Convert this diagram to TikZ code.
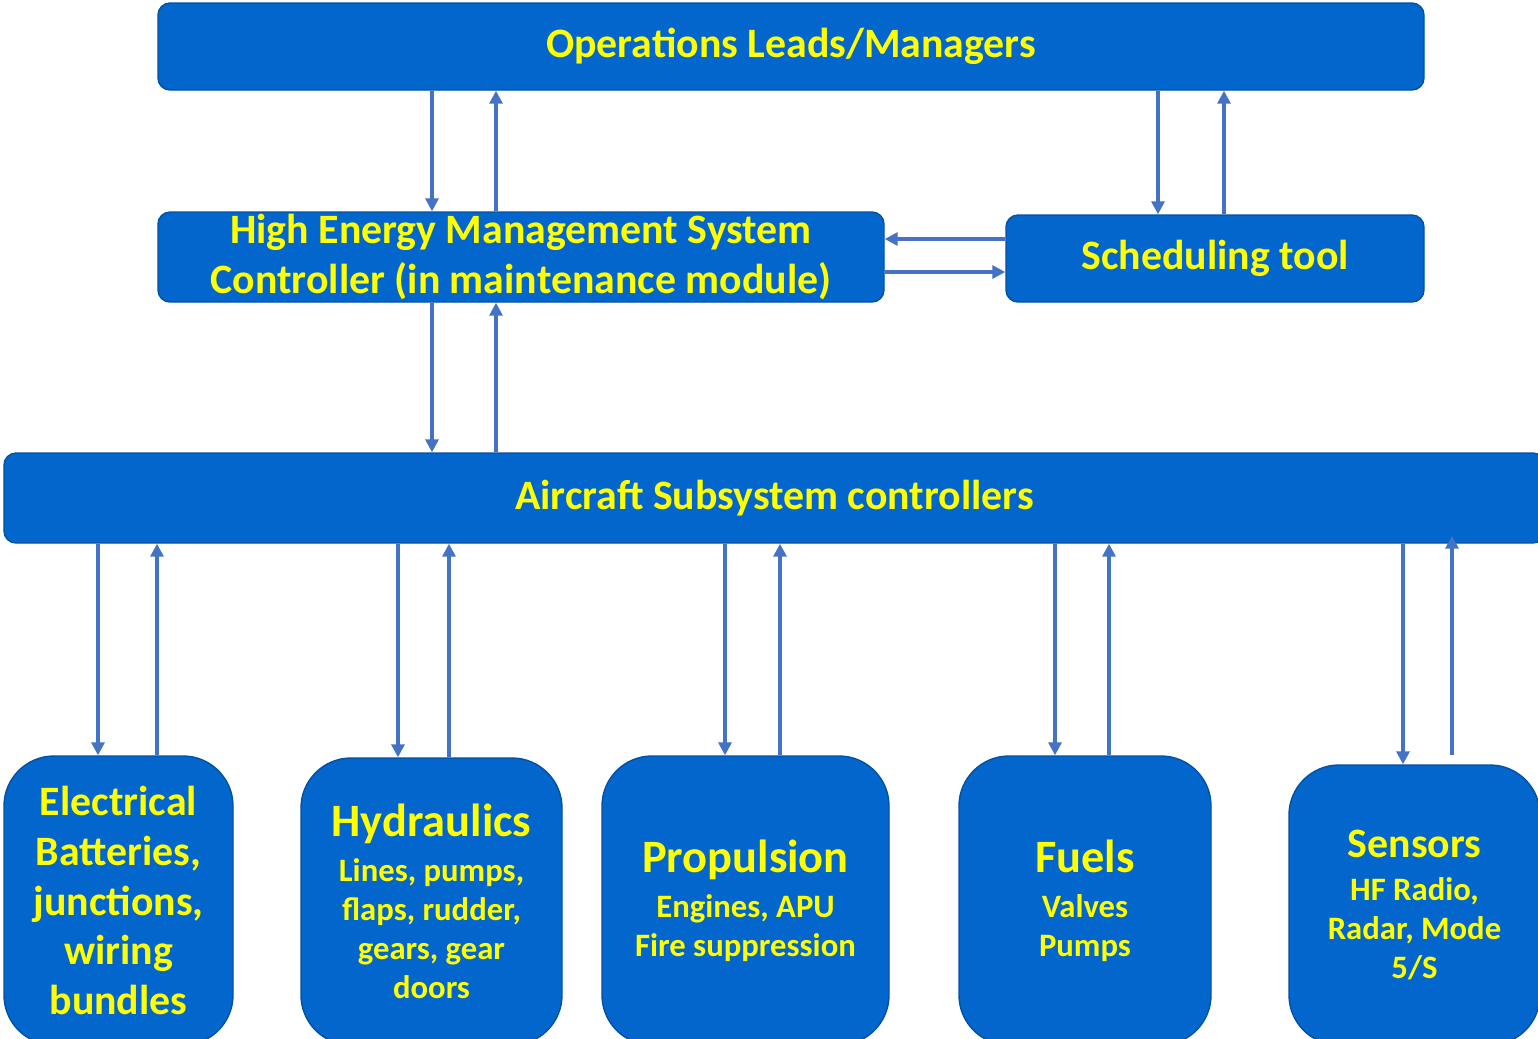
\documentclass[tikz,border=0pt]{standalone}
\usepackage{fontspec}
\setmainfont{Carlito}
\usetikzlibrary{arrows.meta,positioning}
\definecolor{boxblue}{RGB}{2,102,204}
\definecolor{linkblue}{RGB}{68,114,196}
\definecolor{labelyellow}{RGB}{255,255,0}
\newcommand{\headfont}{\fontsize{13.2}{15}\selectfont}
\newcommand{\subfont}{\fontsize{9.3}{11.1}\selectfont}
\tikzset{bar/.style={
            draw=boxblue!80!black,
            fill=boxblue,
            thin,
            rounded corners=0.12cm,
            text=labelyellow,
            font=\bfseries\fontsize{11.9}{14.2}\selectfont,
            align=center,
            inner sep=0pt
        },
        unit/.style={
            bar,
            rounded corners=0.5cm,
            font=\bfseries\subfont
        },
        link/.style={
            draw=linkblue,
            line width=0.9pt,
            -{Triangle[length=0.13cm,width=0.13cm]}
        }
    }

\begin{document}
\begin{tikzpicture}
        \clip (0,0) rectangle (15.38,-10.38);
        % management layer
        \node[bar,minimum width=12.66cm,minimum height=0.87cm] at (7.91,-0.465) (ops) {Operations Leads/Managers};
        \node[bar,minimum width=7.26cm,minimum height=0.90cm] at (5.21,-2.57) (hems) {High Energy Management System\\Controller (in maintenance module)};
        \node[bar,minimum width=4.18cm,minimum height=0.87cm] at (12.15,-2.585) (sched) {Scheduling tool};
        \node[bar,minimum width=15.41cm,minimum height=0.90cm] at (7.745,-4.98) (acs) {Aircraft Subsystem controllers};
        % subsystems
        \node[unit,minimum width=2.29cm,minimum height=2.89cm,font=\bfseries\fontsize{11.9}{14.2}\selectfont] at (1.185,-9.005) (elec) {Electrical\\Batteries,\\junctions,\\wiring\\bundles};
        \node[unit,minimum width=2.61cm,minimum height=2.87cm] at (4.315,-9.015) (hyd) {{\headfont Hydraulics}\\[1.7pt]Lines, pumps,\\flaps, rudder,\\gears, gear\\doors};
        \node[unit,minimum width=2.87cm,minimum height=2.89cm] at (7.455,-9.005) (prop) {{\headfont Propulsion}\\[1.7pt]Engines, APU\\Fire suppression};
        \node[unit,minimum width=2.52cm,minimum height=2.89cm] at (10.85,-9.005) (fuel) {{\headfont Fuels}\\[1.7pt]Valves\\Pumps};
        \node[unit,minimum width=2.51cm,minimum height=2.80cm] at (14.145,-9.05) (sens) {{\fontsize{11.9}{14}\selectfont Sensors}\\[1.2pt]HF Radio,\\Radar, Mode\\5/S};
        % vertical links, down then up
        \foreach \dn/\up/\from/\to in {4.32/4.96/ops/hems, 11.58/12.24/ops/sched, 4.32/4.96/hems/acs,
                0.98/1.57/acs/elec, 3.98/4.49/acs/hyd, 7.25/7.80/acs/prop, 10.55/11.09/acs/fuel}{
            \coordinate (d) at (\dn,0);
            \coordinate (u) at (\up,0);
            \draw[link] (\from.south -| d) -- (\to.north -| d);
            \draw[link] (\to.north -| u) -- (\from.south -| u);
        }
        \coordinate (d) at (14.03,0);
        \coordinate (u) at (14.52,0);
        \draw[link] (acs.south -| d) -- (sens.north -| d);
        \draw[link,shorten <=0.09cm,shorten >=-0.08cm] (sens.north -| u) -- (acs.south -| u);
        % controller <-> scheduling tool
        \coordinate (l) at (0,-2.39);
        \coordinate (r) at (0,-2.72);
        \draw[link] (sched.west |- l) -- (hems.east |- l);
        \draw[link] (hems.east |- r) -- (sched.west |- r);
    \end{tikzpicture}
\end{document}
